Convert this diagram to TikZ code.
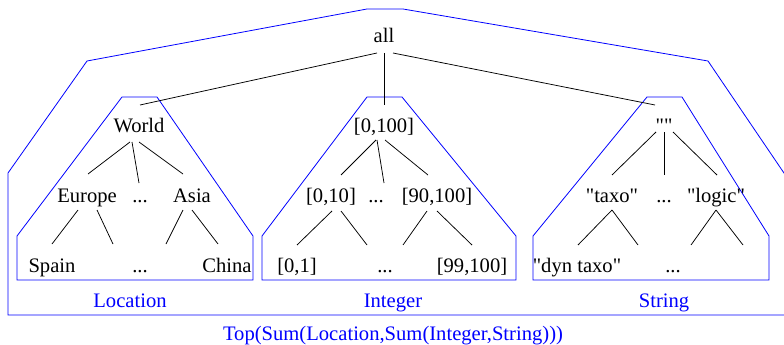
\documentclass[tikz,border=0pt]{standalone}
\usepackage{fontspec}
\setmainfont{Liberation Serif}
\newfontfamily\plainserif{Liberation Serif}[Ligatures=ResetAll]
\usetikzlibrary{calc}
\tikzset{
  lbl/.style={anchor=base, inner sep=0pt, font=\plainserif\fontsize{20.6}{24}\selectfont},
  capt/.style={lbl, text=blue},
  box/.style={draw=blue, line width=0.8pt, line join=miter},
  edge/.style={draw=black, line width=0.75pt}
}
\begin{document}
\begin{tikzpicture}[x=1pt,y=-1pt]
\useasboundingbox (0,0) rectangle (784,345);
\clip (0,0) rectangle (784,345);
% enclosing shapes
\draw[box] (367,9) -- (403,9) -- (708,61) -- (786,176) -- (786,315) -- (8,315) -- (8,173) -- (87,61) -- cycle;
\draw[box] (122,97) -- (157,97) -- (253,236) -- (253,280) -- (17,280) -- (17,236) -- cycle;
\draw[box] (367,97) -- (402,97) -- (516,236) -- (516,280) -- (262,280) -- (262,236) -- cycle;
\draw[box] (647,97) -- (682,97) -- (769,236) -- (769,280) -- (533,280) -- (533,236) -- cycle;
% nodes
\node[lbl] (all) at (384,43) {all};
\node[lbl] (world) at (139,132) {World};
\node[lbl] (i0) at (384,132) {[0,100]};
\node[lbl] (s0) at (664,132) {""};
\node[lbl] (europe) at (87,202) {Europe};
\node[lbl] (ldots) at (140,202) {...};
\node[lbl] (asia) at (192,202) {Asia};
\node[lbl] (i10) at (331,202) {[0,10]};
\node[lbl] (idots) at (376,202) {...};
\node[lbl] (i90) at (437,202) {[90,100]};
\node[lbl] (taxo) at (612,202) {"taxo"};
\node[lbl] (sdots) at (664,202) {...};
\node[lbl] (logic) at (716,202) {"logic"};
\node[lbl] (spain) at (52,272) {Spain};
\node[lbl] (ldots2) at (140,272) {...};
\node[lbl] (china) at (227,272) {China};
\node[lbl] (i01) at (297,272) {[0,1]};
\node[lbl] (idots2) at (385,272) {...};
\node[lbl] (i99) at (472,272) {[99,100]};
\node[lbl] (dyn) at (577,272) {"dyn taxo"};
\node[lbl] (sdots2) at (673,272) {...};
\coordinate (lright) at ($(logic.base)+(27,43)$);
% captions
\node[capt] (loc) at (130,307) {Location};
\node[capt] (int) at (393,307) {Integer};
\node[capt] (str) at (664,307) {String};
\node[capt] (top) at (393,340) {Top(Sum(Location,Sum(Integer,String)))};
% edges
\draw[edge] ($(all.base)+(-7,10)$) -- ($(world.base)+(1,-27)$);
\draw[edge] ($(all.base)+(0,10)$) -- ($(i0.base)+(0,-27)$);
\draw[edge] ($(all.base)+(9,10)$) -- ($(s0.base)+(-9,-27)$);
\draw[edge] ($(world.base)+(-9,10)$) -- ($(europe.base)+(1,-28)$);
\draw[edge] ($(world.base)+(-7,10)$) -- ($(ldots.base)+(-1,-19)$);
\draw[edge] ($(world.base)+(0,10)$) -- ($(asia.base)+(-9,-28)$);
\draw[edge] ($(europe.base)+(-9,8)$) -- ($(spain.base)+(0,-28)$);
\draw[edge] ($(europe.base)+(10,8)$) -- ($(ldots2.base)+(-27,-28)$);
\draw[edge] ($(asia.base)+(-9,8)$) -- ($(ldots2.base)+(26,-28)$);
\draw[edge] ($(asia.base)+(0,8)$) -- ($(china.base)+(-9,-28)$);
\draw[edge] ($(i0.base)+(-8,8)$) -- ($(i10.base)+(10,-27)$);
\draw[edge] ($(i0.base)+(-7,8)$) -- ($(idots.base)+(8,-19)$);
\draw[edge] ($(i0.base)+(1,8)$) -- ($(i90.base)+(-9,-27)$);
\draw[edge] ($(i10.base)+(1,9)$) -- ($(i01.base)+(0,-27)$);
\draw[edge] ($(i10.base)+(10,9)$) -- ($(idots2.base)+(-18,-27)$);
\draw[edge] ($(i90.base)+(-10,9)$) -- ($(idots2.base)+(18,-27)$);
\draw[edge] ($(i90.base)+(0,9)$) -- ($(i99.base)+(0,-27)$);
\draw[edge] ($(s0.base)+(-8,0)$) -- ($(taxo.base)+(0,-27)$);
\draw[edge] ($(s0.base)+(0,0)$) -- ($(sdots.base)+(0,-27)$);
\draw[edge] ($(s0.base)+(9,0)$) -- ($(logic.base)+(1,-27)$);
\draw[edge] ($(taxo.base)+(0,8)$) -- ($(dyn.base)+(1,-27)$);
\draw[edge] ($(taxo.base)+(0,8)$) -- ($(sdots2.base)+(-35,-27)$);
\draw[edge] ($(logic.base)+(0,8)$) -- ($(sdots2.base)+(18,-27)$);
\draw[edge] ($(logic.base)+(0,8)$) -- (lright);
\end{tikzpicture}
\end{document}
